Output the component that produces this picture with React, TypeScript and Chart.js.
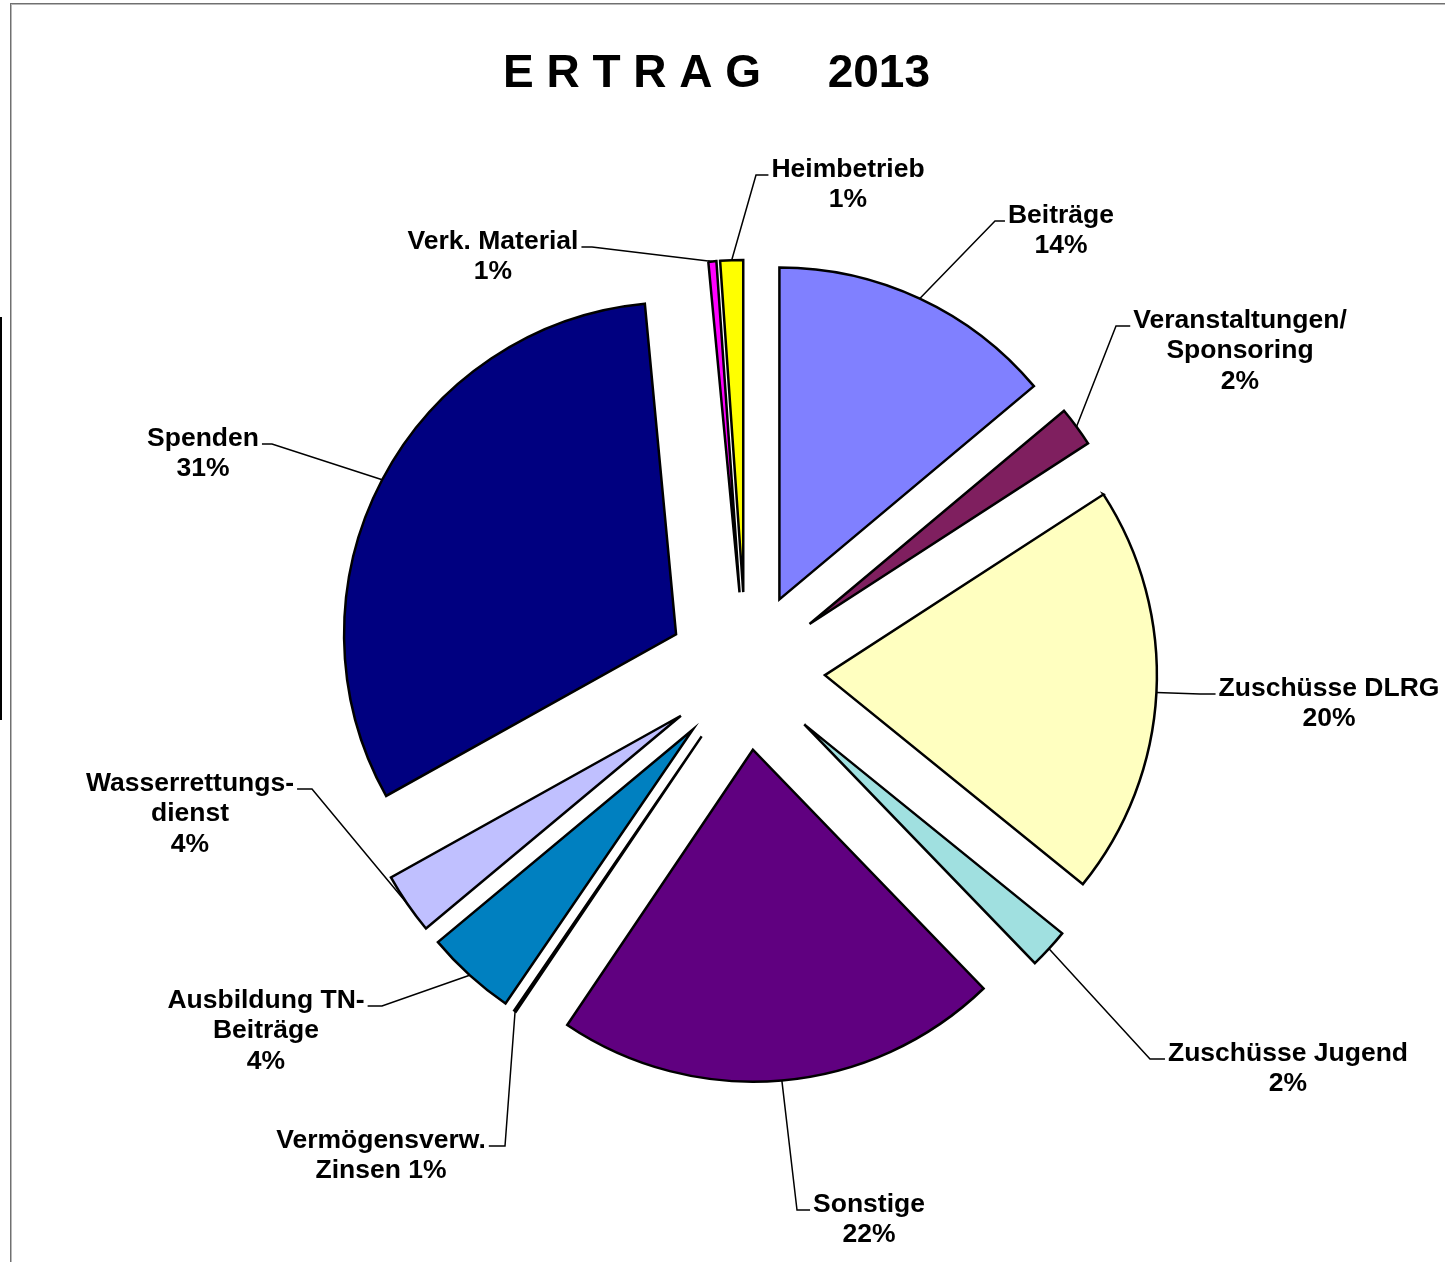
import React, { useEffect, useRef } from 'react';
import { Chart, registerables } from 'chart.js';

Chart.register(...registerables);

// ---- data (clockwise from 12 o'clock) ----
const categories = [
  'Beiträge',
  'Veranstaltungen/\nSponsoring',
  'Zuschüsse DLRG',
  'Zuschüsse Jugend',
  'Sonstige',
  'Vermögensverw.\nZinsen',
  'Ausbildung TN-\nBeiträge',
  'Wasserrettungs-\ndienst',
  'Spenden',
  'Verk. Material',
  'Heimbetrieb',
];
const shares = [13.9, 1.94, 20.0, 1.94, 21.67, 0.1, 4.39, 2.97, 31.6, 0.39, 1.11];
const percentLabels = ['14%', '2%', '20%', '2%', '22%', '1%', '4%', '4%', '31%', '1%', '1%'];
const sliceColors = [
  '#8080FF',
  '#7F1F5F',
  '#FFFFC0',
  '#A0E0E0',
  '#600080',
  '#FF8080',
  '#0080C0',
  '#C0C0FF',
  '#000080',
  '#FF00FF',
  '#FFFF00',
];
const TITLE_WORD = 'E R T R A G';
const TITLE_YEAR = '2013';

// ---- layout (px, relative to pie centre) ----
const EXPLODE = 79;
const RADIUS = 332;
const labelLayout = [
  { dx: 315, dy: -458, elbowX: 249 },
  { dx: 494, dy: -353, elbowX: 370 },
  { dx: 583, dy: 15, elbowX: 454 },
  { dx: 542, dy: 380, elbowX: 404 },
  { dx: 123, dy: 531, elbowX: 51 },
  { dx: -365, dy: 467, elbowX: -241, inline: true },
  { dx: -480, dy: 327, elbowX: -364 },
  { dx: -556, dy: 110, elbowX: -434 },
  { dx: -543, dy: -235, elbowX: -474 },
  { dx: -253, dy: -432, elbowX: -154 },
  { dx: 102, dy: -504, elbowX: 10 },
];
const FONT_FAMILY = 'Arial, "Liberation Sans", Helvetica, sans-serif';
const LABEL_FONT = `bold 26.5px ${FONT_FAMILY}`;
const LINE_H = 30.5;

const explodePlugin = {
  id: 'explode',
  afterDatasetsUpdate(chart: any) {
    const meta = chart.getDatasetMeta(0);
    meta.data.forEach((arc: any) => {
      const mid = (arc.startAngle + arc.endAngle) / 2;
      arc.x += Math.cos(mid) * EXPLODE;
      arc.y += Math.sin(mid) * EXPLODE;
    });
  },
};

const decorPlugin = {
  id: 'decor',
  beforeDraw(chart: any) {
    const ctx = chart.ctx;
    const W = chart.width;
    const H = chart.height;
    ctx.save();
    ctx.fillStyle = '#ffffff';
    ctx.fillRect(0, 0, W, H);
    // frame
    ctx.fillStyle = '#707070';
    ctx.fillRect(10, 3, W - 10, 1);
    ctx.fillRect(10, 3, 1, H - 3);
    ctx.fillStyle = '#b8b8b8';
    ctx.fillRect(11, 4, W - 11, 1);
    ctx.fillRect(11, 4, 1, H - 4);
    // black bar at left edge
    ctx.fillStyle = '#000000';
    ctx.fillRect(0, 317, 2, 403);
    // title
    ctx.font = `bold 46px ${FONT_FAMILY}`;
    ctx.textBaseline = 'alphabetic';
    ctx.fillStyle = '#000000';
    ctx.textAlign = 'left';
    ctx.fillText(TITLE_WORD, 503, 87);
    ctx.textAlign = 'right';
    ctx.fillText(TITLE_YEAR, 930, 87);
    ctx.restore();
  },
};

const labelPlugin = {
  id: 'pieLabels',
  afterDatasetsDraw(chart: any) {
    const ctx = chart.ctx;
    const meta = chart.getDatasetMeta(0);
    const ca = chart.chartArea;
    const cx = (ca.left + ca.right) / 2;
    const cy = (ca.top + ca.bottom) / 2;
    ctx.save();
    ctx.font = LABEL_FONT;
    ctx.textAlign = 'center';
    ctx.textBaseline = 'alphabetic';
    meta.data.forEach((arc: any, i: number) => {
      const L: any = labelLayout[i];
      const nameLines = categories[i].split('\n');
      let lines: string[];
      if (L.inline) {
        lines = nameLines.slice();
        lines[lines.length - 1] = lines[lines.length - 1] + ' ' + percentLabels[i];
      } else {
        lines = [...nameLines, percentLabels[i]];
      }
      const tx = cx + L.dx;
      const ty = cy + L.dy;
      const width = Math.max(...lines.map((s) => ctx.measureText(s).width));
      const mid = (arc.startAngle + arc.endAngle) / 2;
      const sx = arc.x + Math.cos(mid) * arc.outerRadius;
      const sy = arc.y + Math.sin(mid) * arc.outerRadius;
      const ex = cx + L.elbowX;
      const ey = ty + 8;
      const endX = ex < tx ? tx - width / 2 - 3 : tx + width / 2 + 3;
      ctx.strokeStyle = '#000000';
      ctx.lineWidth = 1.5;
      ctx.beginPath();
      ctx.moveTo(sx, sy);
      ctx.lineTo(ex, ey);
      ctx.lineTo(endX, ey);
      ctx.stroke();
      ctx.fillStyle = '#000000';
      lines.forEach((s, k) => {
        ctx.fillText(s, tx, ty + 9.5 + k * LINE_H);
      });
    });
    ctx.restore();
  },
};

export default function App() {
  const ref = useRef<HTMLCanvasElement | null>(null);
  useEffect(() => {
    document.body.style.margin = '0';
    document.body.style.overflow = 'hidden';
    const canvas = ref.current;
    if (!canvas) return;
    const chart = new Chart(canvas, {
      type: 'pie',
      data: {
        labels: categories,
        datasets: [
          {
            data: shares,
            backgroundColor: sliceColors,
            borderColor: '#000000',
            borderWidth: 2.5,
            borderJoinStyle: 'miter',
          } as any,
        ],
      },
      options: {
        responsive: false,
        maintainAspectRatio: false,
        animation: false,
        radius: RADIUS,
        layout: { padding: { left: 47, right: 0, top: 80, bottom: 0 } },
        plugins: {
          legend: { display: false },
          tooltip: { enabled: false },
          title: { display: false },
        },
        events: [],
      } as any,
      plugins: [decorPlugin, explodePlugin, labelPlugin],
    });
    return () => chart.destroy();
  }, []);
  return (
    <div style={{ width: 1445, height: 1262, position: 'relative' }}>
      <canvas ref={ref} width={1445} height={1262} style={{ display: 'block' }} />
    </div>
  );
}
